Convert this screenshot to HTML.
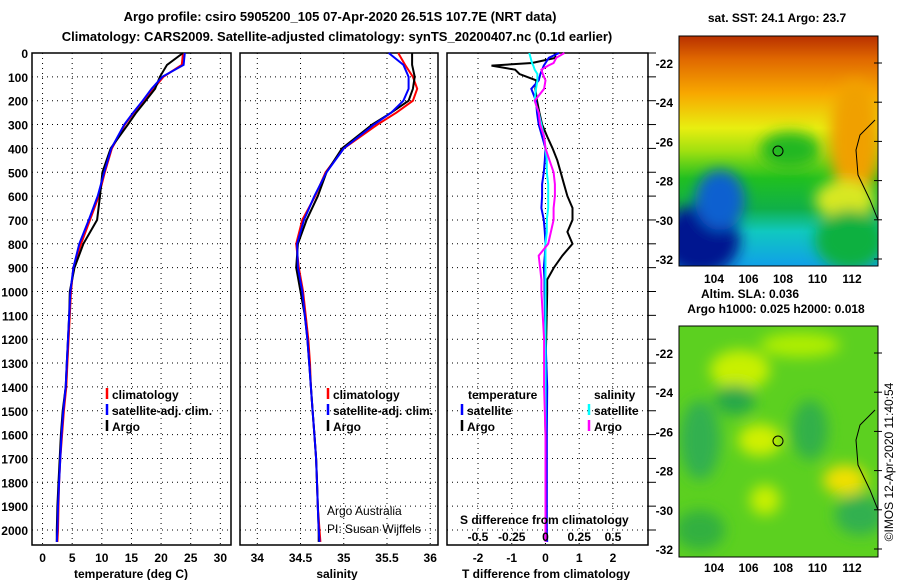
<!DOCTYPE html>
<html><head><meta charset="utf-8"><style>
body{margin:0;background:#fff}
svg{display:block;font-family:"Liberation Sans",sans-serif}
.b{font-weight:bold;font-size:13px}
.t{font-weight:bold;font-size:12px}
</style></head><body>
<svg id="fig" width="900" height="580" viewBox="0 0 900 580">
<rect width="900" height="580" fill="#fff"/>
<text class="b" x="340" y="21" text-anchor="middle">Argo profile: csiro 5905200_105 07-Apr-2020 26.51S 107.7E (NRT data)</text>
<text class="b" x="337" y="41" text-anchor="middle">Climatology: CARS2009. Satellite-adjusted climatology: synTS_20200407.nc (0.1d earlier)</text>
<g id="plots"></g>
<g id="maps">
<defs>
<linearGradient id="sst" x1="0" y1="0" x2="0" y2="1">
<stop offset="0" stop-color="#b83000"/><stop offset="0.1" stop-color="#e06800"/>
<stop offset="0.25" stop-color="#f8a800"/><stop offset="0.4" stop-color="#e8ee10"/>
<stop offset="0.5" stop-color="#a0e010"/><stop offset="0.62" stop-color="#20c020"/>
<stop offset="0.75" stop-color="#10b048"/><stop offset="0.85" stop-color="#10c8c0"/>
<stop offset="1" stop-color="#10a0e8"/></linearGradient>
<filter id="bl"><feGaussianBlur stdDeviation="7"/></filter>
<clipPath id="c1"><rect x="679" y="36" width="199" height="230"/></clipPath>
<clipPath id="c2"><rect x="679" y="326" width="199" height="231"/></clipPath>
</defs>
<g clip-path="url(#c1)">
<rect x="679" y="36" width="199" height="230" fill="url(#sst)"/>
<g filter="url(#bl)">
<ellipse cx="855" cy="140" rx="25" ry="60" fill="#f0a000"/>
<ellipse cx="845" cy="200" rx="30" ry="20" fill="#d8e820"/>
<ellipse cx="700" cy="240" rx="40" ry="35" fill="#001890"/>
<ellipse cx="720" cy="200" rx="25" ry="30" fill="#1060d0"/>
<ellipse cx="850" cy="240" rx="35" ry="30" fill="#10b040"/>
<ellipse cx="790" cy="150" rx="30" ry="18" fill="#20b820"/>
</g>
<path d="M875 120 L860 135 L856 150 L858 175 L870 200 L878 220" fill="none" stroke="#000"/>
<circle cx="778" cy="151" r="5" fill="none" stroke="#000"/>
</g>
<rect x="679" y="36" width="199" height="230" fill="none" stroke="#000"/>
<g clip-path="url(#c2)">
<rect x="679" y="326" width="199" height="231" fill="#5cd020"/>
<g filter="url(#bl)">
<ellipse cx="740" cy="370" rx="30" ry="20" fill="#c8f000"/>
<ellipse cx="800" cy="345" rx="40" ry="12" fill="#b0ee00"/>
<ellipse cx="760" cy="440" rx="22" ry="16" fill="#d0f000"/>
<ellipse cx="845" cy="480" rx="22" ry="15" fill="#f0e000"/>
<ellipse cx="765" cy="500" rx="15" ry="15" fill="#c8f000"/>
<ellipse cx="700" cy="440" rx="20" ry="40" fill="#30b050"/>
<ellipse cx="735" cy="400" rx="20" ry="15" fill="#28a848"/>
<ellipse cx="810" cy="430" rx="18" ry="30" fill="#30b048"/>
<ellipse cx="860" cy="515" rx="25" ry="20" fill="#30b050"/>
<ellipse cx="700" cy="530" rx="25" ry="20" fill="#30b040"/>
</g>
<path d="M875 410 L860 425 L856 440 L858 465 L870 490 L878 510" fill="none" stroke="#000"/>
<circle cx="778" cy="441" r="5" fill="none" stroke="#000"/>
</g>
<rect x="679" y="326" width="199" height="231" fill="none" stroke="#000"/>
<text class="t" x="777" y="22" text-anchor="middle">sat. SST: 24.1 Argo: 23.7</text>
<text class="t" x="750" y="298" text-anchor="middle">Altim. SLA: 0.036</text>
<text class="t" x="776" y="313" text-anchor="middle">Argo h1000: 0.025 h2000: 0.018</text>
<text x="893" y="462" font-size="12" text-anchor="middle" transform="rotate(-90 893 462)">©IMOS 12-Apr-2020 11:40:54</text>
</g>
</svg>
<script>
// ---- data ----
const depths=[0,50,100,150,200,250,300,400,500,600,700,800,900,1000,1100,1200,1300,1400,1500,1600,1700,1800,1900,2000,2050];
const tempClim=[23.7,23.5,20.4,18.7,17.0,15.4,13.9,11.7,10.5,9.5,8.0,6.5,5.2,4.8,4.6,4.4,4.2,4.0,3.6,3.3,3.0,2.8,2.7,2.6,2.5];
const tempSat=[24.0,23.8,20.2,18.4,16.9,15.3,13.8,11.6,10.4,9.3,7.8,6.2,5.2,4.7,4.5,4.3,4.1,3.9,3.5,3.2,3.0,2.8,2.6,2.5,2.4];
const tempArgo=[23.7,21.0,19.8,19.0,17.4,15.8,14.4,11.5,10.1,9.7,9.2,6.9,5.4,4.6,4.5,4.3,4.1,3.9,3.4,3.1,2.9,2.7,2.5,2.4,2.4];
const salClim=[35.63,35.71,35.80,35.85,35.80,35.61,35.39,35.00,34.79,34.67,34.52,34.45,34.48,34.53,34.56,34.59,34.61,34.62,34.64,34.66,34.68,34.69,34.70,34.72,34.73];
const salSat=[35.52,35.69,35.75,35.75,35.69,35.55,35.35,35.00,34.80,34.66,34.54,34.46,34.47,34.52,34.55,34.58,34.60,34.62,34.64,34.66,34.68,34.69,34.70,34.71,34.72];
const salArgo=[35.79,35.79,35.82,35.80,35.75,35.55,35.33,34.98,34.80,34.70,34.57,34.47,34.45,34.50,34.55,34.58,34.60,34.62,34.64,34.66,34.68,34.69,34.70,34.71,34.71];
const dtDepths=[0,20,42,53,70,88,115,150,200,250,300,350,400,450,500,550,600,650,700,750,800,850,900,950,1000,1200,1400,1600,1800,2000,2050];
const dtArgo=[0.27,0.3,-0.4,-1.6,-0.9,-0.77,-0.27,-0.3,-0.25,-0.18,-0.1,0.05,0.21,0.35,0.45,0.55,0.65,0.8,0.8,0.65,0.8,0.5,0.25,0.05,0.05,0.02,-0.02,0.0,0.0,0.0,0.0];
const dtSat=[0.4,0.1,0.0,-0.05,-0.1,-0.15,-0.2,-0.42,-0.28,-0.25,-0.2,-0.1,0.0,-0.02,-0.05,-0.1,-0.1,-0.12,-0.05,-0.02,0.0,-0.02,-0.05,-0.03,-0.03,0.0,0.05,0.04,0.04,0.04,0.05];
const dsSat=[-0.12,-0.11,-0.1,-0.09,-0.08,-0.06,-0.06,-0.07,-0.08,-0.05,-0.03,-0.01,0.0,0.01,0.01,0.02,0.02,0.02,0.01,0.01,0.0,0.0,0.0,0.0,0.0,0.0,0.0,0.0,0.0,0.0,0.0];
const dsArgo=[0.14,0.08,0.06,0.02,-0.03,-0.02,0.0,-0.01,-0.08,-0.05,-0.04,-0.01,0.0,0.03,0.06,0.07,0.07,0.06,0.06,0.04,0.02,-0.05,-0.04,-0.03,-0.03,-0.01,-0.01,0.0,0.0,0.0,0.0];
const depthTicks=[0,100,200,300,400,500,600,700,800,900,1000,1100,1200,1300,1400,1500,1600,1700,1800,1900,2000];
const tempTicks=[0,5,10,15,20,25,30];
const salTicks=[34,34.5,35,35.5,36];
const salTickLabels=["34","34.5","35","35.5","36"];
const dtTicks=[-2,-1,0,1,2];
const dsTicks=[-0.5,-0.25,0,0.25,0.5];
const dsTickLabels=["-0.5","-0.25","0","0.25","0.5"];
const mapLatTicks=[-22,-24,-26,-28,-30,-32];
const mapLonTicks=[104,106,108,110,112];

const NS="http://www.w3.org/2000/svg";
const G=document.getElementById('plots');
function mk(tag,at,parent){const e=document.createElementNS(NS,tag);for(const k in at)e.setAttribute(k,at[k]);(parent||G).appendChild(e);return e;}
const TOP=53,BOT=545;
const yD=d=>TOP+d*0.2385;
const panels=[{x0:32,x1:231,v0:-1.78,v1:31.8},{x0:240,x1:438,v0:33.8,v1:36.09},{x0:447,x1:648,v0:-2.92,v1:3.04}];
function sx(p,v){const P=panels[p];return P.x0+(v-P.v0)/(P.v1-P.v0)*(P.x1-P.x0);}
const dsx=v=>sx(2,v*4);

function axes(p,ticks,labels,name){
  const P=panels[p];
  const g=mk('g',{});
  
  
  depthTicks.forEach(d=>{const l=mk('line',{x1:P.x0,x2:P.x1,y1:yD(d),y2:yD(d),stroke:'#000','stroke-dasharray':'1 4'},g);
    });
  ticks.forEach((v,i)=>{const x=sx(p,v);
    const l=mk('line',{x1:x,x2:x,y1:TOP,y2:BOT,stroke:'#000','stroke-dasharray':'1 4'},g);
    
    const t=mk('text',{x:x,y:562,'text-anchor':'middle','class':'t'},g);t.textContent=labels[i];
    });
  const r=mk('rect',{x:P.x0,y:TOP,width:P.x1-P.x0,height:BOT-TOP,fill:'none',stroke:'#000','stroke-width':1.5},g);
  
}
axes(0,tempTicks,tempTicks.map(String),'temperature-panel');
axes(1,salTicks,salTickLabels,'salinity-panel');
axes(2,dtTicks,dtTicks.map(String),'difference-panel');
depthTicks.forEach(d=>{const t=mk('text',{x:28,y:yD(d)+5,'text-anchor':'end','class':'t'});t.textContent=d;
  
  const k=mk('line',{x1:648,x2:656,y1:yD(d),y2:yD(d),stroke:'#000'});
  });

function line(xs,ds,fx,col,name){
  const pts=xs.map((v,i)=>fx(v).toFixed(1)+','+yD(ds[i]).toFixed(1)).join(' ');
  const e=mk('polyline',{points:pts,fill:'none',stroke:col,'stroke-width':2});
  
}
line(tempClim,depths,v=>sx(0,v),'#f00','temp-climatology');
line(tempArgo,depths,v=>sx(0,v),'#000','temp-argo');
line(tempSat,depths,v=>sx(0,v),'#00f','temp-satellite');
line(salClim,depths,v=>sx(1,v),'#f00','sal-climatology');
line(salArgo,depths,v=>sx(1,v),'#000','sal-argo');
line(salSat,depths,v=>sx(1,v),'#00f','sal-satellite');
line(dtArgo,dtDepths,v=>sx(2,v),'#000','tdiff-argo');
line(dtSat,dtDepths,v=>sx(2,v),'#00f','tdiff-satellite');
line(dsSat,dtDepths,dsx,'#0ff','sdiff-satellite');
line(dsArgo,dtDepths,dsx,'#f0f','sdiff-argo');

function txt(x,y,s,cls,name,anchor){const t=mk('text',{x:x,y:y,'class':cls||'t','text-anchor':anchor||'start'});t.textContent=s;
  return t;}
function leg(x,y,col,s,name){const m=mk('line',{x1:x,x2:x,y1:y-11,y2:y,stroke:col,'stroke-width':2.5});
  txt(x+5,y,s,'t',name);}
[[112,0],[333,1]].forEach(([x,i])=>{leg(x-5,399,'#f00','climatology','legend-climatology');
  leg(x-5,415,'#00f','satellite-adj. clim.','legend-satellite');leg(x-5,431,'#000','Argo','legend-argo');});
txt(468,399,'temperature','t','legend-temperature-header');txt(594,399,'salinity','t','legend-salinity-header');
leg(462,415,'#00f','satellite','legend-t-satellite');leg(462,431,'#000','Argo','legend-t-argo');
leg(589,415,'#0ff','satellite','legend-s-satellite');leg(589,431,'#f0f','Argo','legend-s-argo');
txt(460,524,'S difference from climatology','t','s-diff-axis-title');
dsTicks.forEach((v,i)=>txt(dsx(v),541,dsTickLabels[i],'t','s-diff-tick-label','middle'));
const a=txt(327,515,'Argo Australia','t','credit-argo-australia');a.setAttribute('font-weight','normal');a.style.fontWeight='normal';
const b=txt(327,533,'PI: Susan Wijffels','t','credit-pi');b.style.fontWeight='normal';
txt(131,578,'temperature (deg C)','t','x-axis-title-temperature','middle');
txt(337,578,'salinity','t','x-axis-title-salinity','middle');
txt(546,578,'T difference from climatology','t','x-axis-title-tdiff','middle');

// map ticks
const M=document.getElementById('maps');
[[63,19.6,283],[353,19.6,572]].forEach(([y0,sc,ly])=>{
  mapLatTicks.forEach(l=>{const y=y0+(-22-l)*sc;
    const t=mk('text',{x:673,y:y+5,'text-anchor':'end','class':'t'},M);t.textContent=l;
    
    const k=mk('line',{x1:874,x2:882,y1:y,y2:y,stroke:'#000'},M);
    });
  mapLonTicks.forEach(l=>{const x=714+(l-104)*17.25;
    const t=mk('text',{x:x,y:ly,'text-anchor':'middle','class':'t'},M);t.textContent=l;
    });
});
</script>
</body></html>
